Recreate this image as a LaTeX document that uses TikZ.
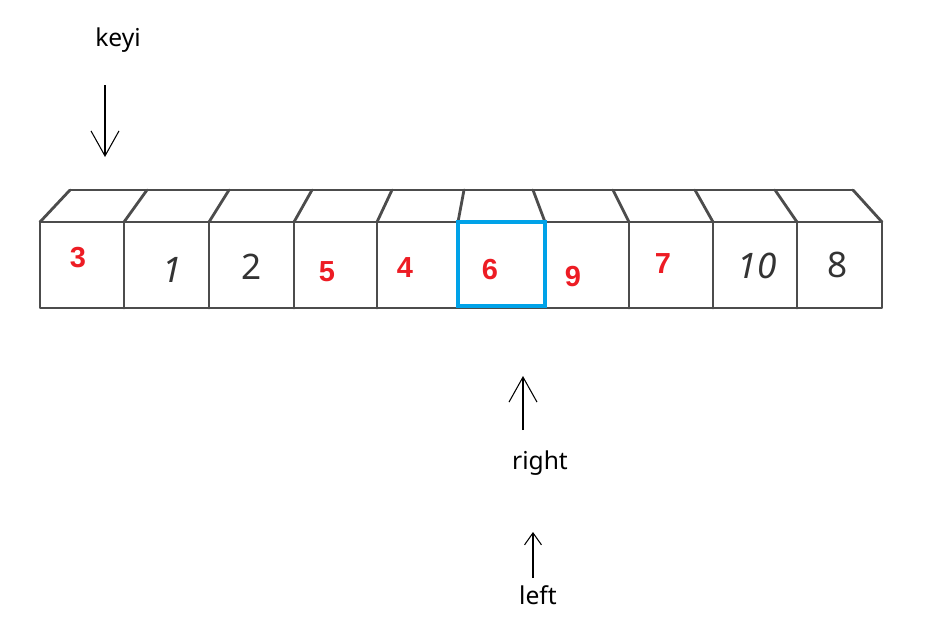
\documentclass[tikz,border=0pt]{standalone}
\usepackage{fontspec}
\setmainfont{Noto Sans}
\newfontfamily\markfont{Liberation Sans}
\usetikzlibrary{arrows.meta}
\definecolor{markred}{RGB}{237,28,36}
\definecolor{markblue}{RGB}{0,162,232}
\tikzset{
  cellline/.style={line width=1.6pt, draw=black!70, line cap=round, line join=round},
  curframe/.style={line width=2.4pt, draw=markblue},
  redval/.style={font=\markfont\fontsize{16.5}{16.5}\selectfont\bfseries, text=markred},
  handval/.style={font=\fontsize{20}{20}\selectfont, text=black!80},
  tag/.style={font=\fontsize{14}{14}\selectfont},
  pointer/.style={line width=0.6pt, draw=black, -{Straight Barb[length=5mm,width=5.6mm]}},
  smallpointer/.style={line width=0.6pt, draw=black, -{Straight Barb[length=2.4mm,width=3.4mm]}},
}
\begin{document}
\begin{tikzpicture}
\useasboundingbox (0,0) rectangle (18.9,12.86);
\draw[cellline] (0.80,6.70) rectangle (17.64,8.42);
\draw[cellline] (1.40,9.06) -- (17.06,9.06);
\draw[cellline] (0.80,8.42) -- (1.40,9.06);
\draw[cellline] (2.48,8.42) -- (2.94,9.06);
\draw[cellline] (4.18,8.42) -- (4.58,9.06);
\draw[cellline] (5.88,8.42) -- (6.24,9.06);
\draw[cellline] (7.54,8.42) -- (7.84,9.06);
\draw[cellline] (9.16,8.42) -- (9.28,9.06);
\draw[cellline] (10.90,8.42) -- (10.66,9.06);
\draw[cellline] (12.58,8.42) -- (12.26,9.06);
\draw[cellline] (14.26,8.42) -- (13.90,9.06);
\draw[cellline] (15.94,8.42) -- (15.50,9.06);
\draw[cellline] (17.64,8.42) -- (17.06,9.06);
\draw[cellline] (2.48,6.70) -- (2.48,8.42);
\draw[cellline] (4.18,6.70) -- (4.18,8.42);
\draw[cellline] (5.88,6.70) -- (5.88,8.42);
\draw[cellline] (7.54,6.70) -- (7.54,8.42);
\draw[cellline] (12.58,6.70) -- (12.58,8.42);
\draw[cellline] (14.26,6.70) -- (14.26,8.42);
\draw[cellline] (15.94,6.70) -- (15.94,8.42);
\draw[curframe] (9.16,6.74) rectangle (10.90,8.42);
\node[redval] (val3) at (1.56,7.70) {3};
\node[handval] (val1) at (3.44,7.46) {\textit{1}};
\node[handval] (val2) at (5.04,7.52) {2};
\node[redval] (val5) at (6.54,7.42) {5};
\node[redval] (val4) at (8.10,7.50) {4};
\node[redval] (val6) at (9.80,7.46) {6};
\node[redval] (val9) at (11.46,7.32) {9};
\node[redval] (val7) at (13.26,7.58) {7};
\node[handval] (val10) at (15.14,7.54) {\textit{10}};
\node[handval] (val8) at (16.76,7.56) {8};
\node[tag] (keyi) at (2.36,12.06) {keyi};
\node[tag] (right) at (10.80,3.60) {right};
\node[tag] (left) at (10.76,0.96) {left};
\coordinate (keyitail) at (2.10,11.16);
\coordinate (keyitip) at (2.10,9.72);
\coordinate (righttail) at (10.46,4.26);
\coordinate (righttip) at (10.46,5.34);
\coordinate (lefttail) at (10.66,1.30);
\coordinate (lefttip) at (10.66,2.22);
\draw[pointer] (keyitail) -- (keyitip);
\draw[pointer] (righttail) -- (righttip);
\draw[smallpointer] (lefttail) -- (lefttip);
\end{tikzpicture}
\end{document}
